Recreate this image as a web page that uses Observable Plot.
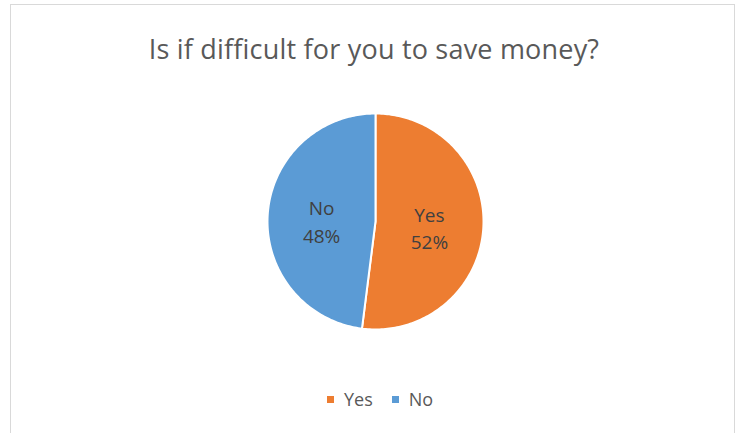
<!DOCTYPE html>
<html>
<head>
<meta charset="utf-8">
<script src="https://cdn.jsdelivr.net/npm/d3@7"></script>
<script src="https://cdn.jsdelivr.net/npm/@observablehq/plot@0.6"></script>
<style>
  html, body { margin: 0; padding: 0; background: #fff; }
  #frame { position: absolute; left: 10px; top: 4px; width: 725px; height: 440px;
           border: 1px solid #d9d9d9; box-sizing: border-box; background: #fff; }
  #title { position: absolute; left: 0; top: 30px; width: 748px; text-align: center;
           font-family: "Open Sans", sans-serif; font-size: 27px; letter-spacing: 0.2px; color: #595959; white-space: nowrap; }
  #chart { position: absolute; left: 255px; top: 101px; }
  #legend { position: absolute; left: 327px; top: 387px; white-space: nowrap; display: flex; align-items: center; gap: 19px;
            font-family: "Open Sans", sans-serif; font-size: 18px; line-height: 24px; color: #595959; }
  #legend span.item { display: flex; align-items: center; gap: 10px; }
  #legend span.sw { display: inline-block; width: 7px; height: 7px; }
</style>
</head>
<body>
<div id="frame"></div>
<div id="title"></div>
<div id="chart"></div>
<div id="legend"></div>
<script>
const titleText = "Is if difficult for you to save money?";
const categories = ["Yes", "No"];
const values = [52, 48];
const colors = ["#ED7D31", "#5B9BD5"];

document.getElementById("title").textContent = titleText;

const data = categories.map((c, i) => ({label: c, value: values[i]}));
const arcs = d3.pie().sort(null).value(d => d.value)(data);

// polygon outline for each slice, in unit-circle coordinates (y up)
const pts = [];
for (const a of arcs) {
  const n = 180;
  pts.push({label: a.data.label, x: 0, y: 0});
  for (let k = 0; k <= n; k++) {
    const t = a.startAngle + (a.endAngle - a.startAngle) * k / n;
    pts.push({label: a.data.label, x: Math.sin(t), y: Math.cos(t)});
  }
  pts.push({label: a.data.label, x: 0, y: 0});
}
const labels = arcs.map(a => {
  const m = (a.startAngle + a.endAngle) / 2;
  return {label: a.data.label, text: a.data.label + "\n" + a.data.value + "%", x: 0.5 * Math.sin(m), y: 0.5 * Math.cos(m)};
});

const chart = Plot.plot({
  width: 240, height: 240,
  margin: 12,
  x: {domain: [-1, 1], axis: null},
  y: {domain: [-1, 1], axis: null},
  color: {domain: categories, range: colors},
  style: {background: "transparent", overflow: "visible"},
  marks: [
    Plot.line(pts, {x: "x", y: "y", z: "label", fill: "label", stroke: "white", strokeWidth: 2, strokeLinejoin: "round"}),
    Plot.text(labels, {x: "x", y: "y", text: "text", fontSize: 19, lineHeight: 1.45, fill: "#404040", fontFamily: "Open Sans", dy: 2})
  ]
});
document.getElementById("chart").appendChild(chart);

const leg = document.getElementById("legend");
categories.forEach((c, i) => {
  const item = document.createElement("span");
  item.className = "item";
  const sw = document.createElement("span");
  sw.className = "sw";
  sw.style.background = colors[i];
  item.appendChild(sw);
  item.appendChild(document.createTextNode(c));
  leg.appendChild(item);
});
</script>
</body>
</html>
